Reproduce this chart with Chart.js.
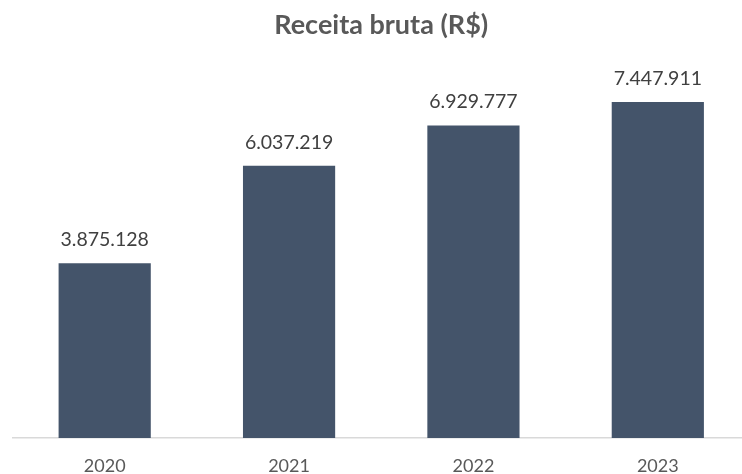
<!DOCTYPE html>
<html>
<head>
<meta charset="utf-8">
<script src="https://cdn.jsdelivr.net/npm/chart.js@4"></script>
<style>
    html, body { margin: 0; padding: 0; background: #fff; overflow: hidden; }
    #grafico { display: block; }
</style>
</head>
<body>
<canvas id="grafico" width="752" height="474"></canvas>
<script>
// Receita bruta por ano
const anos    = ["2020", "2021", "2022", "2023"];
const receita = [3875128, 6037219, 6929777, 7447911];
const eixoMax = 8000000;

function formatarBR(v) {
    return String(v).replace(/\B(?=(\d{3})+(?!\d))/g, ".");
}

// escreve o valor em cima de cada barra
const rotulosBarras = {
    id: "rotulosBarras",
    afterDatasetsDraw(chart) {
        const ctx = chart.ctx;
        const meta = chart.getDatasetMeta(0);
        ctx.save();
        ctx.font = "19.5px Lato";
        ctx.fillStyle = "#404040";
        ctx.textAlign = "center";
        ctx.textBaseline = "alphabetic";
        meta.data.forEach((barra, i) => {
            ctx.fillText(formatarBR(receita[i]), barra.x, barra.y - 17);
        });
        ctx.restore();
    }
};

new Chart(document.getElementById("grafico"), {
    type: "bar",
    data: {
        labels: anos,
        datasets: [{
            data: receita,
            backgroundColor: "#44546A",
            barPercentage: 0.5,
            categoryPercentage: 1,
        }]
    },
    options: {
        responsive: false,
        animation: false,
        layout: { padding: { left: 12.5, right: 2, top: 0, bottom: -20 } },
        plugins: {
            legend: { display: false },
            tooltip: { enabled: false },
            title: {
                display: true,
                text: "Receita bruta (R$)",
                color: "#595959",
                font: { family: "Lato", size: 27, weight: "bold" },
                padding: { top: 9, bottom: 35.8 }
            }
        },
        scales: {
            x: {
                grid: { display: false, drawTicks: false },
                border: { display: true, color: "#d9d9d9", width: 1.5 },
                ticks: {
                    color: "#595959",
                    font: { family: "Lato", size: 18, lineHeight: 1 },
                    padding: 19
                }
            },
            y: {
                display: false,
                min: 0,
                max: eixoMax
            }
        }
    },
    plugins: [rotulosBarras]
});
</script>
</body>
</html>
